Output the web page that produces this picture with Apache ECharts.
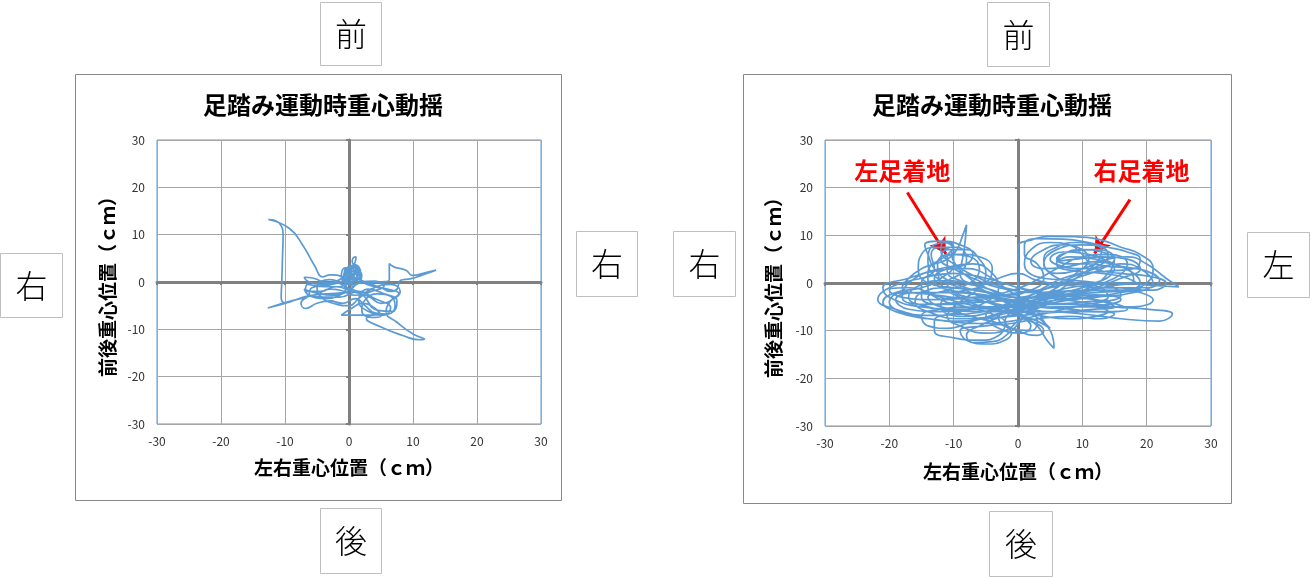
<!DOCTYPE html>
<html>
<head>
<meta charset="utf-8">
<script src="https://cdn.jsdelivr.net/npm/echarts@6/dist/echarts.min.js"></script>
<style>
html,body{margin:0;padding:0;background:#fff;}
#main{width:1310px;height:577px;}
</style>
</head>
<body>
<div id="main"></div>
<script>
// ---- data ----
const chartTitle = '足踏み運動時重心動揺';
const xAxisName = '左右重心位置（ｃｍ）';
const yAxisName = '前後重心位置（ｃｍ）';
const axisMin = -30, axisMax = 30, axisStep = 10;

// left chart trace [x, y] (cm)
const leftPath = [
[0.2,0.5],[1.0,2.0],[0.0,3.0],[-0.8,1.5],[0.3,0.2],[1.6,1.2],[0.8,3.2],[-0.5,2.6],[-0.9,0.4],[0.4,-0.6],
[1.8,0.6],[1.4,2.8],[0.5,4.2],[0.6,5.0],[1.1,5.3],[0.9,4.0],[0.1,2.2],[-1.5,0.5],[-3.5,-0.2],[-5.5,0.8],
[-7.0,1.0],[-6.5,0.2],[-4.5,-0.5],[-2.0,-0.2],[-0.5,-1.5],[-2.5,-2.8],[-5.5,-2.2],[-7.0,-1.5],[-6.0,-3.0],[-3.5,-3.5],
[-1.0,-2.5],[0.5,-1.0],[-0.5,0.8],[-3.0,1.5],[-4.1,1.1],[-5.4,3.5],[-7.2,7.7],[-9.3,11.3],[-12.6,13.2],[-10.8,12.3],
[-10.3,9.5],[-10.4,5.0],[-10.5,0.0],[-10.6,-3.2],[-10.0,-4.4],[-8.0,-3.6],[-5.0,-2.6],[-3.0,-1.5],[-1.2,-1.8],[1.0,-2.8],
[3.5,-2.0],[5.5,-0.8],[4.0,0.2],[1.5,-0.3],[-0.5,-2.2],[-3.5,-2.5],[-6.5,-3.0],[-9.5,-4.3],[-12.7,-5.5],[-9.0,-4.0],
[-6.5,-3.2],[-7.5,-4.5],[-6.8,-5.6],[-5.0,-4.5],[-3.0,-4.0],[-1.0,-4.5],[1.0,-3.5],[2.5,-5.0],[4.0,-6.5],[6.0,-6.8],
[7.2,-5.0],[6.5,-3.0],[4.5,-2.5],[2.5,-3.8],[2.0,-6.0],[3.5,-7.5],[5.0,-7.2],[4.0,-5.5],[2.0,-4.5],[0.5,-5.5],
[-1.2,-7.0],[1.0,-7.0],[3.0,-7.0],[4.8,-6.8],[2.7,-7.7],[5.0,-9.5],[8.4,-11.3],[11.0,-12.2],[11.8,-12.1],[10.0,-11.0],
[7.5,-8.5],[5.8,-6.3],[6.5,-4.0],[7.8,-2.5],[6.0,-1.5],[4.0,-1.0],[2.5,-0.3],[5.0,0.0],[6.3,0.5],[6.3,3.9],
[7.0,3.2],[8.9,2.5],[9.9,1.4],[12.0,2.0],[13.6,2.5],[11.5,1.5],[9.7,0.7],[8.0,0.3],[7.5,-1.5],[6.5,-2.0],
[5.0,-1.2],[3.5,-0.5],[2.0,0.3],[0.5,1.2],[-0.5,2.5],[0.8,2.0],[0.0,1.0],
[-0.7,2.2],[0.3,3.3],[1.4,2.4],[0.9,0.6],[-0.4,0.9],[-0.2,2.8],[1.0,3.6],[1.8,2.0],[0.6,0.0],[-1.2,1.0],
[-0.6,3.0],[0.9,3.0],[1.2,1.0],[-0.3,-0.2],[-1.5,-1.0],[-4.0,-1.0],[-6.5,-0.5],[-6.8,-2.0],[-4.5,-2.0],[-2.0,-1.0],
[0.5,-2.0],[3.0,-3.0],[5.0,-4.5],[7.0,-3.5],[8.0,-2.0],[6.5,-0.5],[3.5,-1.5],[1.5,-3.5],[0.0,-5.0],[-2.5,-4.5],
[-4.5,-3.0],[-5.0,-1.0],[-3.0,0.5],[-1.0,0.0],[0.5,1.5],[0.0,2.5],[-0.8,1.0],[0.7,-0.5],[2.0,1.2],[1.2,2.6],[0.2,1.8],
[-1.0,0.2],[-3.0,-0.6],[-5.8,-1.2],[-6.2,-2.6],[-4.0,-3.2],[-1.5,-3.2],[1.5,-2.0],[4.0,-3.5],[6.5,-5.5],[5.5,-7.0],
[3.0,-6.2],[1.5,-4.0],[3.0,-1.5],[5.5,-2.5],[7.5,-4.0],[6.8,-6.2],[4.5,-6.0],[2.0,-2.5],[-0.5,-0.5],[0.6,2.4]
];

// right chart trace [x, y] (cm)
const rightPath = [
[0,-4],[3,-2],[8,1],[12,3],[16,4],[19,3],[21,0],[18,-2],[12,-3],[6,-4],[0,-6],[-6,-5],[-12,-3],[-17,-1],[-20,-1.5],[-18,-3],[-13,-3.5],[-7,-3],[-2,-2],
[2,0],[6,3],[10,5.5],[14,6],[17,4],[15,1],[10,-1],[4,-3],[-2,-5],[-8,-6.5],[-14,-6.8],[-19,-5.5],[-21.8,-3.4],[-20,-1],[-15,1],[-10,2],[-5,1],[0,-1],
[5,-3],[10,-4],[15,-5],[20,-5.5],[24,-6.5],[22,-8],[16,-7.5],[10,-6.5],[4,-6],[-2,-7],[-6,-9],[-8,-11],[-7,-12.5],[-4,-12.3],[-1,-10],[1,-7],[3,-5],
[6,-2],[9,1],[12,4],[13,7],[10,8],[6,7],[4,4],[6,2],[10,3],[14,5],[17,5.5],[20,4],[23,1],[25,-0.8],[21,-0.5],[16,0],[10,0],[5,-1],[0,-3],
[-5,-2],[-10,0],[-13,3],[-14,6],[-14.5,8],[-12,8.8],[-9,8],[-7,6],[-8,4],[-11,3],[-13,1],[-12,-1],[-8,-2],[-3,-3],[2,-5],[4,-8],[5.5,-12],[5.6,-13.7],[4.5,-12],[3,-9],[1,-7],
[-2,-4],[-6,-1],[-9,2],[-8.5,6],[-8.2,9],[-8,12.2],[-8.6,10],[-9.5,7],[-11,5],[-13,4],[-15,3],[-17,1],[-18,-1],[-16,-2],[-11,-2],[-6,-2.5],[-1,-4],
[3,-5],[8,-5.5],[13,-6],[17,-5.5],[14,-4],[9,-3],[4,-2],[0,0],[0.2,3],[0,6],[0,7.8],[2,9],[5,9.8],[9,9.7],[13,9],[16,7.5],[19,6],[21,3],[20,0],[16,-2],[10,-3],
[4,-4],[-2,-6],[-7,-8],[-11,-9.5],[-14,-9],[-15,-7],[-12,-5.5],[-7,-5],[-2,-6],[2,-8],[4,-10],[3,-11],[0,-10],[-2,-8],[-1,-6],[2,-4],[6,-1],[9,2],
[11,5],[10,7],[7,8],[4,7],[2,4.5],[4,3],[8,3.5],[12,4.5],[15,3],[13,0.5],[8,-1],[3,-2],[-2,-1],[-6,1],[-10,4],[-12,7],[-11.5,8.5],[-10,7],[-10,4],
[-12,1],[-15,-1],[-19,-2],[-21,-4],[-19,-6],[-14,-7.5],[-9,-8],[-5,-7.5],[-1,-7],[3,-6.5],[7,-6],[12,-5.5],[15,-5],[12,-3.5],[7,-2.5],[2,-2],[-3,-1],
[-7,1],[-10,3],[-12,5],[-11,7],[-8,7],[-6,5],[-5,2],[-6,-1],[-8,-3],[-10,-5],[-11,-7],[-9,-9],[-5,-10.5],[-2,-10],[0,-8],[2,-6],[6,-4],[11,-3],[16,-2],[19,-1],[17,1],[13,2],[9,2.5],[6,4],[7,6],[10,7],[13,6.5],[15,5],[13,3],[9,1],[5,-1],[0,-2],[-4,-3],
[-9,-4],[-14,-4.5],[-18,-3],[-17,0],[-13,2.5],[-8,3],[-4,1],[-1,-2],[3,-4],[8,-4.5],[13,-4],[16,-2.5],[14,-0.5],[9,0.5],[4,1],[1,4],[2,7],[5,8.5],[8,8],[10,6],[12,3],[16,2],[20,1.5],[23,0],[21,-1.5],[15,-1.5],[9,-2],[3,-3.5],[-3,-5],[-9,-5.5],[-15,-5],[-20,-3],[-21,-1],[-17,1],[-12,3],[-7,4],[-4,2],[-3,-1],[-5,-4],[-9,-6],[-13,-8],[-13,-10],[-10,-11.5],[-6,-12],[-3,-11],[-2,-8.5],[-4,-6.5],[-8,-5],[-12,-3.5],[-14,-1],[-14,2],[-12,5],[-9,6],[-6,5.5],[-4,3],[-5,0],[-8,-1.5],[-12,-2],[-16,-2],[-19,-3.5],[-17,-5.5],[-12,-6],[-6,-5.5],[0,-5],[5,-4.5],[10,-4],[14,-3],[13,-1],[9,0],[5,2],[4,5],[6,7.5],[9,8.5],[12,8],[14,6],[13,4],[10,3],[7,3.5],[5,5],[7,6.5],[11,6],[15,4],[18,2],[19,0],[17,-1.5],[12,-2],[6,-2.5],[0,-3.5],[-6,-4],[-11,-4.5],[-15,-3],[-15,0],[-13,3],[-13.5,6],[-12,7.5],[-9.5,7.5],[-8,5],[-9,2],[-11,0],[-10,-2],[-6,-3.5],[-2,-5.5],[1,-7.5],[2,-9],[0.5,-10.5],[-3,-9.5],[-5,-7],[-3,-5],[1,-3.5],[5,-2],[10,-1.5],[15,-1],[19,-2],[21,-3.5],[18,-5],[12,-5],[6,-5],[1,-5.5],[-4,-7],[-9,-7.5],[-14,-6],[-16,-4],[-15,-2],[-11,-1],[-6,-1.5],[-2,-2.5],[2,-1.5],[4,1],[3,4],[1,6],[1,8],[3,9.3],[7,9.2],[11,8.5],[14,7.5],[17,6.5],[19,5],[18,3],[14,2.5],[10,2],[7,1],[4,-1],[0,-4],[-4,-6],[-8,-7],[-11,-6.5],[-12,-4.5],[-10,-3],[-6,-3],[-2,-4],[1,-6],[4,-7],[8,-7.5],[12,-7],[14,-6],[12,-5],[8,-4.5],[3,-4],[-1,-3],[-5,-1],[-8,1.5],[-10,4.5],[-10.5,7],[-13,7.5],[-15,6],[-15.5,3],[-14,0],[-10,-1],[-5,-2],
[0,-4.5],[5,-6],[10,-6],[15,-6.5],[13,-7.5],[8,-7],[3,-7.5],[-1,-8.5],[-5,-9],[-9,-10],[-8,-12],[-5,-12.8],[-2,-12],[-1,-10.5],[-3,-8.5],[-6,-7.5],[-10,-6],[-14,-5],[-17,-3],[-16,-1],[-12,0.5],[-8,0],[-4,-1.5],[0,-3],[4,-3],[8,-2.5],[12,-1],[16,1],[19,3],[17,5],[13,5.5],[9,5],[6,4.5],[8,5.5],[12,5],[16,3.5],[20,2.5],[22,0.5],[20,-1],[14,-1],[8,-0.5],[3,0.5],[0,2],[-3,1],[-6,-0.5],[-9,0.5],[-11,2.5],[-11,5.5],[-10,7.5],[-11,8.5],[-13,8],[-14,5],[-13,1.5],[-9,-1],[-4,-4],[0,-6.5],[3,-8],[5,-9.5],
[2,-6.5],[-3,-4.5],[-8,-3.5],[-13,-2.5],[-18,-2],[-20,-4],[-17,-6.5],[-11,-8],[-6,-8.5],[-1,-8],[4,-6.5],[9,-5],[14,-4.5],[16,-3.5],[12,-2.5],[6,-3],[1,-4.5],[-4,-5],[-9,-3],[-12,0],[-12.5,4],[-10.5,6],[-7.5,5.5],[-6,3],[-7.5,0],[-11,-1.5],[-14,-3],[-12,-5],[-6,-6],[0,-5.5],[6,-3.5],[11,-1],[14,2],[15,5],[12,7],[8,6.5],[6,5],[8,4],[11,4],[14,3.5],[17,3],[18,0.5],[15,-0.5],[10,-1.5],[4,-2.5],[-1,-5],[-3,-7.5],[-1,-9.5],[2,-10],[3,-8],[1,-5],[-2,-3.5]
];

// annotations on the right chart (data coordinates)
const annotTexts = ['左足着地', '右足着地'];
const annotTextAt = [[-18.0, 23.6], [19.2, 23.6]];
const arrowFrom = [[-17.2, 19.0], [17.4, 17.5]];
const arrowTo = [[-11.2, 6.1], [11.9, 6.2]];

// direction labels around the charts
const dirLeftChart = ['前', '後', '右', '右'];
const dirRightChart = ['前', '後', '右', '左'];

// ---- styles ----
const FONT = '"Noto Sans CJK JP", "Noto Sans", sans-serif';
const LINE_BLUE = '#5B9BD5';

function labelAxisX(gridIndex, gap) {
  return {
    type: 'value', gridIndex, min: axisMin, max: axisMax, interval: axisStep,
    position: 'bottom',
    axisLine: { show: false, onZero: false },
    axisTick: { show: false },
    axisLabel: { color: '#333', fontSize: 12, fontFamily: FONT, margin: 11 },
    splitLine: { show: true, lineStyle: { color: '#A6A6A6', width: 1 } },
    name: xAxisName, nameLocation: 'middle', nameGap: gap,
    nameTextStyle: { fontSize: 19, fontWeight: 'bold', color: '#000', fontFamily: FONT }
  };
}
function labelAxisY(gridIndex, gap) {
  return {
    type: 'value', gridIndex, min: axisMin, max: axisMax, interval: axisStep,
    position: 'left',
    axisLine: { show: false, onZero: false },
    axisTick: { show: false },
    axisLabel: { color: '#333', fontSize: 12, fontFamily: FONT, margin: 12 },
    splitLine: { show: true, lineStyle: { color: '#A6A6A6', width: 1 } },
    name: yAxisName, nameLocation: 'middle', nameGap: gap,
    nameTextStyle: { fontSize: 19, fontWeight: 'bold', color: '#000', fontFamily: FONT }
  };
}
function zeroAxis(gridIndex, pos) {
  return {
    type: 'value', gridIndex, min: axisMin, max: axisMax, interval: axisStep,
    position: pos,
    axisLine: { show: true, onZero: true, lineStyle: { color: '#808080', width: 3 } },
    axisTick: { show: true, length: 3, lineStyle: { color: '#808080', width: 2 } },
    axisLabel: { show: false },
    splitLine: { show: false }
  };
}

function dirBox(text, x, y, w, h) {
  return {
    type: 'group', left: x, top: y,
    children: [
      { type: 'rect', shape: { x: 0, y: 0, width: w, height: h },
        style: { fill: '#fff', stroke: '#BFBFBF', lineWidth: 1 } },
      { type: 'text', x: w / 2, y: h / 2,
        style: { text: text, fill: '#000', font: '300 32px ' + FONT, textAlign: 'center', textVerticalAlign: 'middle' } }
    ]
  };
}

const chart = echarts.init(document.getElementById('main'), null, { renderer: 'canvas' });

const option = {
  backgroundColor: '#fff',
  animation: false,
  title: [
    { text: chartTitle, left: 318, top: 88, textAlign: 'center',
      textStyle: { fontSize: 24, fontWeight: 'bold', color: '#000', fontFamily: FONT } },
    { text: chartTitle, left: 987, top: 88, textAlign: 'center',
      textStyle: { fontSize: 24, fontWeight: 'bold', color: '#000', fontFamily: FONT } }
  ],
  grid: [
    { left: 157, top: 140, width: 384, height: 284, show: true, borderColor: LINE_BLUE, borderWidth: 1, backgroundColor: 'transparent' },
    { left: 825, top: 140, width: 386, height: 286, show: true, borderColor: LINE_BLUE, borderWidth: 1, backgroundColor: 'transparent' }
  ],
  xAxis: [labelAxisX(0, 34), zeroAxis(0, 'bottom'), labelAxisX(1, 36), zeroAxis(1, 'bottom')],
  yAxis: [labelAxisY(0, 40), zeroAxis(0, 'left'), labelAxisY(1, 42), zeroAxis(1, 'left')],
  graphic: [
    { type: 'rect', left: 75, top: 74, shape: { width: 486, height: 426 }, z: -10,
      style: { fill: '#fff', stroke: '#888', lineWidth: 1 } },
    { type: 'rect', left: 743, top: 74, shape: { width: 488, height: 429 }, z: -10,
      style: { fill: '#fff', stroke: '#888', lineWidth: 1 } },
    dirBox(dirLeftChart[0], 320, 2, 61, 63),
    dirBox(dirLeftChart[1], 320, 508, 61, 65),
    dirBox(dirLeftChart[2], 0, 253, 62, 64),
    dirBox(dirLeftChart[3], 576, 231, 61, 65),
    dirBox(dirRightChart[0], 987, 2, 62, 64),
    dirBox(dirRightChart[1], 989, 511, 63, 65),
    dirBox(dirRightChart[2], 673, 231, 62, 65),
    dirBox(dirRightChart[3], 1247, 232, 62, 65)
  ],
  series: [
    { type: 'line', xAxisIndex: 0, yAxisIndex: 0, data: leftPath, smooth: 0.5,
      showSymbol: false, lineStyle: { color: LINE_BLUE, width: 1.7 }, z: 5 },
    { type: 'line', xAxisIndex: 2, yAxisIndex: 2, data: rightPath, smooth: 0.5,
      showSymbol: false, lineStyle: { color: LINE_BLUE, width: 1.7 }, z: 5,
      markLine: {
        silent: true, symbol: ['none', 'arrow'], symbolSize: [14, 16],
        lineStyle: { color: '#FF0000', width: 3, type: 'solid' },
        label: { show: false },
        data: arrowFrom.map((p, i) => [{ coord: p }, { coord: arrowTo[i] }])
      },
      markPoint: {
        silent: true, symbol: 'circle', symbolSize: 0,
        label: { show: true, position: 'inside', color: '#FF0000', fontSize: 24, fontWeight: 'bold', fontFamily: FONT,
          formatter: p => p.name },
        data: annotTexts.map((t, i) => ({ name: t, coord: annotTextAt[i] }))
      }
    }
  ]
};
chart.setOption(option);
</script>
</body>
</html>
